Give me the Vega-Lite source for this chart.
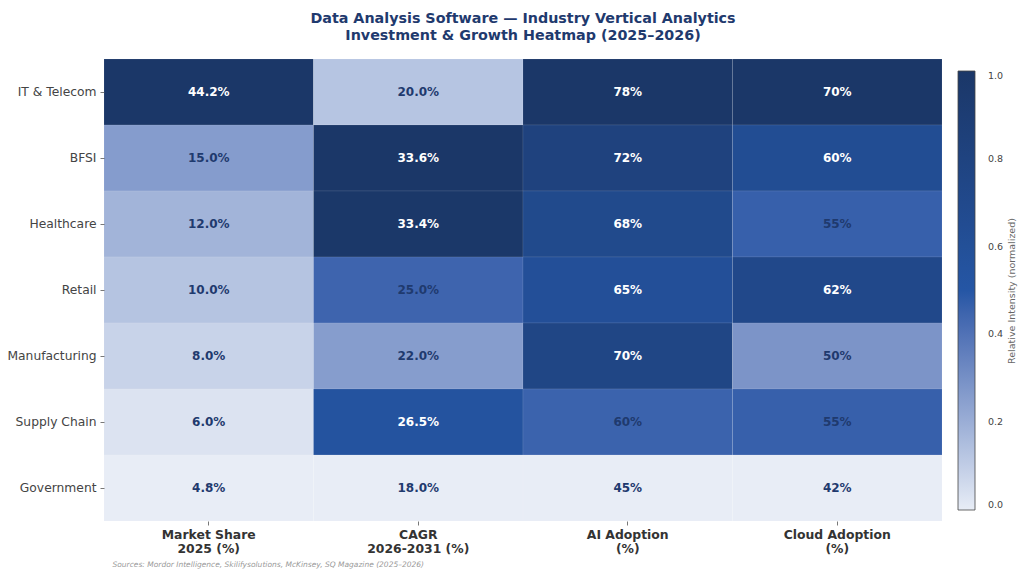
{
  "$schema": "https://vega.github.io/schema/vega-lite/v6.json",
  "autosize": "none",
  "width": 838,
  "height": 462,
  "padding": {"left": 104, "top": 59, "right": 82, "bottom": 55},
  "background": "#ffffff",
  "config": {"view": {"stroke": null}, "font": "DejaVu Sans"},
  "title": {
    "text": ["Data Analysis Software — Industry Vertical Analytics", "Investment & Growth Heatmap (2025–2026)"],
    "font": "DejaVu Sans",
    "fontSize": 14.3,
    "fontWeight": "bold",
    "color": "#1f3a6e",
    "lineHeight": 17,
    "anchor": "middle",
    "frame": "group",
    "offset": 16
  },
  "data": {
    "values": [
      {"sector": "IT & Telecom", "metric": "Market Share|2025 (%)", "value": 44.2, "dec": 1},
      {"sector": "IT & Telecom", "metric": "CAGR|2026-2031 (%)", "value": 20.0, "dec": 1},
      {"sector": "IT & Telecom", "metric": "AI Adoption|(%)", "value": 78, "dec": 0},
      {"sector": "IT & Telecom", "metric": "Cloud Adoption|(%)", "value": 70, "dec": 0},
      {"sector": "BFSI", "metric": "Market Share|2025 (%)", "value": 15.0, "dec": 1},
      {"sector": "BFSI", "metric": "CAGR|2026-2031 (%)", "value": 33.6, "dec": 1},
      {"sector": "BFSI", "metric": "AI Adoption|(%)", "value": 72, "dec": 0},
      {"sector": "BFSI", "metric": "Cloud Adoption|(%)", "value": 60, "dec": 0},
      {"sector": "Healthcare", "metric": "Market Share|2025 (%)", "value": 12.0, "dec": 1},
      {"sector": "Healthcare", "metric": "CAGR|2026-2031 (%)", "value": 33.4, "dec": 1},
      {"sector": "Healthcare", "metric": "AI Adoption|(%)", "value": 68, "dec": 0},
      {"sector": "Healthcare", "metric": "Cloud Adoption|(%)", "value": 55, "dec": 0},
      {"sector": "Retail", "metric": "Market Share|2025 (%)", "value": 10.0, "dec": 1},
      {"sector": "Retail", "metric": "CAGR|2026-2031 (%)", "value": 25.0, "dec": 1},
      {"sector": "Retail", "metric": "AI Adoption|(%)", "value": 65, "dec": 0},
      {"sector": "Retail", "metric": "Cloud Adoption|(%)", "value": 62, "dec": 0},
      {"sector": "Manufacturing", "metric": "Market Share|2025 (%)", "value": 8.0, "dec": 1},
      {"sector": "Manufacturing", "metric": "CAGR|2026-2031 (%)", "value": 22.0, "dec": 1},
      {"sector": "Manufacturing", "metric": "AI Adoption|(%)", "value": 70, "dec": 0},
      {"sector": "Manufacturing", "metric": "Cloud Adoption|(%)", "value": 50, "dec": 0},
      {"sector": "Supply Chain", "metric": "Market Share|2025 (%)", "value": 6.0, "dec": 1},
      {"sector": "Supply Chain", "metric": "CAGR|2026-2031 (%)", "value": 26.5, "dec": 1},
      {"sector": "Supply Chain", "metric": "AI Adoption|(%)", "value": 60, "dec": 0},
      {"sector": "Supply Chain", "metric": "Cloud Adoption|(%)", "value": 55, "dec": 0},
      {"sector": "Government", "metric": "Market Share|2025 (%)", "value": 4.8, "dec": 1},
      {"sector": "Government", "metric": "CAGR|2026-2031 (%)", "value": 18.0, "dec": 1},
      {"sector": "Government", "metric": "AI Adoption|(%)", "value": 45, "dec": 0},
      {"sector": "Government", "metric": "Cloud Adoption|(%)", "value": 42, "dec": 0}
    ]
  },
  "transform": [
    {"joinaggregate": [{"op": "min", "field": "value", "as": "vmin"}, {"op": "max", "field": "value", "as": "vmax"}], "groupby": ["metric"]},
    {"calculate": "(datum.value - datum.vmin) / (datum.vmax - datum.vmin)", "as": "norm"},
    {"calculate": "(datum.dec == 1 ? format(datum.value, '.1f') : format(datum.value, '.0f')) + '%'", "as": "label"}
  ],
  "encoding": {
    "x": {
      "field": "metric",
      "type": "nominal",
      "sort": ["Market Share|2025 (%)", "CAGR|2026-2031 (%)", "AI Adoption|(%)", "Cloud Adoption|(%)"],
      "scale": {"paddingInner": 0, "paddingOuter": 0},
      "axis": {
        "title": "Sources: Mordor Intelligence, Skilifysolutions, McKinsey, SQ Magazine (2025–2026)",
        "titleAnchor": "start",
        "titleX": 8,
        "titleFont": "DejaVu Sans",
        "titleFontSize": 7.5,
        "titleFontStyle": "italic",
        "titleFontWeight": "normal",
        "titleColor": "#999999",
        "titlePadding": 6,
        "labelExpr": "split(datum.value, '|')",
        "labelAngle": 0,
        "labelFont": "DejaVu Sans",
        "labelFontSize": 12.4,
        "labelFontWeight": "bold",
        "labelColor": "#333333",
        "labelLineHeight": 14,
        "labelPadding": 3,
        "domain": false,
        "ticks": true,
        "tickSize": 4,
        "tickColor": "#555555",
        "tickWidth": 0.8
      }
    },
    "y": {
      "field": "sector",
      "type": "nominal",
      "sort": ["IT & Telecom", "BFSI", "Healthcare", "Retail", "Manufacturing", "Supply Chain", "Government"],
      "scale": {"paddingInner": 0, "paddingOuter": 0},
      "axis": {
        "title": null,
        "labelFont": "DejaVu Sans",
        "labelFontSize": 12.3,
        "labelColor": "#444444",
        "labelPadding": 4,
        "domain": false,
        "ticks": true,
        "tickSize": 4,
        "tickColor": "#555555",
        "tickWidth": 0.8
      }
    }
  },
  "layer": [
    {
      "mark": {"type": "rect", "stroke": "#ffffff", "strokeWidth": 0.3, "strokeOpacity": 0.3},
      "encoding": {
        "color": {
          "field": "norm",
          "type": "quantitative",
          "scale": {"domain": [0, 0.5, 1], "range": ["#e8edf6", "#2556a5", "#1b3768"]},
          "legend": {
            "title": "Relative Intensity (normalized)",
            "orient": "none",
            "legendX": 854,
            "legendY": 12,
            "padding": 0,
            "direction": "vertical",
            "gradientLength": 439,
            "gradientThickness": 17,
            "gradientStrokeColor": "#444444",
            "gradientStrokeWidth": 0.8,
            "values": [0, 0.2, 0.4, 0.6, 0.8, 1.0],
            "format": ".1f",
            "labelFont": "DejaVu Sans",
            "labelFontSize": 9.5,
            "labelColor": "#444444",
            "labelOffset": 13,
            "titleOrient": "right",
            "titleFont": "DejaVu Sans",
            "titleFontSize": 9.5,
            "titleFontWeight": "normal",
            "titleColor": "#666666",
            "titlePadding": 4,
            "encoding": {"title": {"angle": {"value": 270}, "baseline": {"value": "top"}}}
          }
        }
      }
    },
    {
      "mark": {"type": "text", "font": "DejaVu Sans", "fontSize": 12, "fontWeight": "bold", "align": "center", "baseline": "middle"},
      "encoding": {
        "text": {"field": "label", "type": "nominal"},
        "color": {
          "condition": {"test": "datum.norm > 0.5", "value": "#ffffff"},
          "value": "#1f3a6e"
        }
      }
    }
  ]
}
